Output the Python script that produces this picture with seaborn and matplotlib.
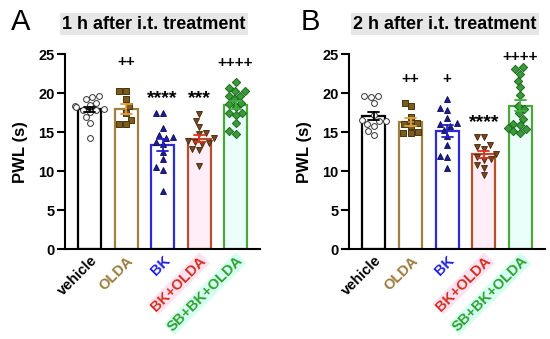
import numpy as np
import pandas as pd
import matplotlib
matplotlib.use("Agg")
import matplotlib.pyplot as plt
import seaborn as sns

sns.set_style("white")
plt.rcParams['font.family'] = ['Liberation Sans', 'DejaVu Sans']
plt.rcParams['text.color'] = 'black'
plt.rcParams['axes.labelcolor'] = 'black'
plt.rcParams['xtick.color'] = 'black'
plt.rcParams['ytick.color'] = 'black'

groups = ["vehicle", "OLDA", "BK", "BK+OLDA", "SB+BK+OLDA"]

# Panel A: 1 h after i.t. treatment
a_vehicle = [19.7, 19.5, 19.2, 18.8, 18.5, 18.3, 18.2, 18.0, 17.9, 17.8, 17.6, 16.9, 16.2, 14.2]
a_olda = [20.3, 20.3, 19.2, 18.3, 17.5, 16.6, 16.0, 16.0]
a_bk = [17.5, 17.5, 15.5, 14.6, 14.4, 14.3, 13.8, 13.5, 12.5, 11.6, 10.6, 10.2, 7.4]
a_bkolda = [17.3, 16.5, 15.7, 14.9, 14.8, 14.2, 13.9, 13.8, 13.6, 13.5, 12.9, 12.7, 10.7]
a_sb = [21.5, 20.7, 20.3, 20.3, 19.7, 19.7, 19.2, 18.8, 18.6, 18.2, 17.5, 17.4, 17.2, 16.2, 15.2, 14.8]

# Panel B: 2 h after i.t. treatment
b_vehicle = [19.6, 19.6, 19.5, 18.7, 17.2, 16.6, 16.5, 16.4, 16.0, 15.8, 15.1, 14.6]
b_olda = [18.8, 18.3, 17.0, 16.2, 16.0, 15.8, 15.0, 14.9, 14.9]
b_bk = [19.2, 18.1, 17.8, 16.8, 16.0, 16.2, 15.8, 15.3, 14.5, 13.4, 12.0, 11.8, 10.4]
b_bkolda = [14.4, 14.4, 13.3, 13.1, 12.9, 12.2, 11.8, 11.6, 11.4, 10.8, 10.4, 9.5]
b_sb = [23.3, 23.1, 22.5, 21.6, 20.8, 19.8, 18.4, 18.0, 17.4, 16.7, 16.1, 15.9, 15.6, 15.4, 15.1, 14.9]

a_marks = ["", "++", "****", "***", "++++"]
a_mark_y = [None, 24.0, 20.0, 20.0, 23.9]
b_marks = ["", "++", "+", "****", "++++"]
b_mark_y = [None, 21.8, 21.8, 16.9, 24.7]

titles = ["1 h after i.t. treatment", "2 h after i.t. treatment"]
letters = ["A", "B"]
yticks = [0, 5, 10, 15, 20, 25]

edge_colors = ["#000000", "#A08040", "#2B2BD9", "#B5502A", "#4CA63A"]
err_colors = ["#000000", "#E0A040", "#2222C8", "#E03020", "#40B040"]
bar_faces = ["#FFFFFF", "#FFFFFF", "#FFFFFF", "#FFEEF7", "#EAFFFA"]
label_colors = ["#000000", "#9A7A3A", "#1F1FE0", "#D0301E", "#2FA02F"]
label_bg = [None, None, None, "#FFE2F2", "#D6FFF2"]
markers = ["o", "s", "^", "v", "D"]
mk_face = ["#FFFFFF", "#7A5C1E", "#1F1F8F", "#7A4A1E", "#3A9A3A"]
mk_edge = ["#333333", "#4A3510", "#101060", "#4A2A10", "#1E6A1E"]


def long_df(vals):
    rows = []
    for g, v in zip(groups, vals):
        for x in v:
            rows.append((g, x))
    return pd.DataFrame(rows, columns=["group", "PWL"])


dfs = [long_df([a_vehicle, a_olda, a_bk, a_bkolda, a_sb]),
       long_df([b_vehicle, b_olda, b_bk, b_bkolda, b_sb])]
marks = [(a_marks, a_mark_y), (b_marks, b_mark_y)]

fig = plt.figure(figsize=(5.5, 3.39), dpi=100)
axes_rects = [[65/550, 0.265, 195/550, 0.575], [349/550, 0.265, 196/550, 0.575]]
title_x = [0.456, 0.49]
letter_pos = [(20.5/550, 1-22/339), (310/550, 1-22.5/339)]

for i, ax_rect in enumerate(axes_rects):
    ax = fig.add_axes(ax_rect)
    df = dfs[i]
    sns.barplot(data=df, x="group", y="PWL", hue="group", order=groups, hue_order=groups,
                palette=edge_colors, fill=False, errorbar="se", capsize=0.3,
                linewidth=1.6, width=0.63, err_kws={"linewidth": 1.3}, legend=False, ax=ax)
    for p, fc in zip(ax.patches, bar_faces):
        p.set_fill(True)
        p.set_facecolor(fc)
    for ln in list(ax.lines):
        xd = np.asarray(ln.get_xdata(), dtype=float)
        if xd.size == 0 or np.all(np.isnan(xd)):
            continue
        k = int(round(np.nanmean(xd)))
        if 0 <= k < len(groups):
            ln.set_color(err_colors[k])
        ln.set_zorder(5)
    for k, g in enumerate(groups):
        sub = df[df["group"] == g]
        sns.swarmplot(data=sub, x="group", y="PWL", order=groups, marker=markers[k],
                      color=mk_face[k], edgecolor=mk_edge[k], linewidth=0.7, size=4.2, ax=ax)
    for ln in ax.lines:
        ln.set_zorder(5)

    ax.set_xlim(-0.68, 4.67)
    ax.set_ylim(0, 25)
    ax.set_yticks(yticks)
    ax.set_yticklabels([str(t) for t in yticks], fontsize=10.5, fontweight="bold")
    ax.tick_params(axis="y", direction="out", length=5.5, width=1.5, pad=2, left=True,
                   color="black", labelcolor="black")
    ax.tick_params(axis="x", length=0, pad=3)
    ax.set_xticks(range(len(groups)))
    ax.set_xticklabels(groups, rotation=45, ha="right", rotation_mode="anchor",
                       fontsize=10.5, fontweight="bold")
    for t, c, bg in zip(ax.get_xticklabels(), label_colors, label_bg):
        t.set_color(c)
        if bg:
            t.set_bbox(dict(facecolor=bg, edgecolor="none", pad=0.5))
    ax.set_xlabel("")
    ax.set_ylabel("PWL (s)", fontsize=12, fontweight="bold", labelpad=7, color="black")
    for s in ["top", "right"]:
        ax.spines[s].set_visible(False)
    for s in ["left", "bottom"]:
        ax.spines[s].set_linewidth(1.5)
        ax.spines[s].set_color("black")

    mk, my = marks[i]
    for k, (m, yv) in enumerate(zip(mk, my)):
        if m.startswith("*"):
            ax.text(k, yv - 0.7, m, ha="center", va="center", fontsize=14,
                    fontweight="bold", color="black")
        elif m:
            ax.text(k, yv, m, ha="center", va="center", fontsize=11,
                    fontweight="bold", color="black")

    ax.text(title_x[i], 1.154, titles[i], transform=ax.transAxes, ha="center", va="center",
            fontsize=13, fontweight="bold", color="black",
            bbox=dict(facecolor="#E6E6E6", edgecolor="none", pad=2))
    fig.text(letter_pos[i][0], letter_pos[i][1], letters[i], ha="center", va="center",
             fontsize=21, color="black")

fig.savefig("out.png", dpi=100)
